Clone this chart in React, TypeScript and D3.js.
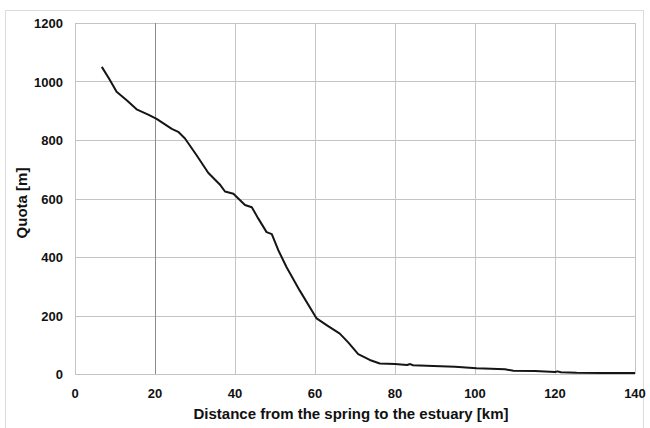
import { useEffect, useRef } from "react";
import * as d3 from "d3";

// river profile: distance from spring [km] vs elevation [m]
const distances = [
  6.7, 8.5, 10.4, 13, 15.4, 18.3, 20.4, 24.2, 25.8, 27.5, 30.4, 33.3, 36.2,
  37.5, 39.6, 42.5, 44.2, 45.8, 47.9, 49.2, 50.8, 52.9, 56.2, 60.4, 62.9,
  66.2, 68.3, 70.8, 73.7, 76.2, 80, 83, 83.8, 84.5, 89.6, 95, 100.4, 104,
  107.5, 109.6, 115, 120, 120.6, 121.5, 125.4, 132, 140,
];
const quotas = [
  1050, 1010, 965, 935, 905, 887, 872, 838, 828, 805, 748, 688, 648, 624, 616,
  578, 570, 532, 485, 478, 424, 365, 285, 190, 167, 138, 108, 68, 48, 36, 34,
  31, 34, 30, 27, 25, 20, 18, 16, 11, 10, 7, 9, 6, 4, 3, 3,
];
const xTicks = [0, 20, 40, 60, 80, 100, 120, 140];
const yTicks = [0, 200, 400, 600, 800, 1000, 1200];

const App = () => {
  const svgRef = useRef<SVGSVGElement>(null);

  useEffect(() => {
    const svg = d3.select(svgRef.current);
    svg.selectAll("*").remove();

    const font = "'Liberation Sans', Arial, sans-serif";
    const x = d3.scaleLinear().domain([0, 140]).range([75, 635]);
    const y = d3.scaleLinear().domain([0, 1200]).range([374, 23]);

    // outer frame
    svg
      .append("rect")
      .attr("x", 5.5)
      .attr("y", 10.5)
      .attr("width", 638)
      .attr("height", 430)
      .attr("fill", "#fff")
      .attr("stroke", "#dcdcdc");

    // grid
    const grid = svg.append("g");
    grid
      .selectAll("line.h")
      .data(yTicks)
      .enter()
      .append("line")
      .attr("x1", x(0))
      .attr("x2", x(140))
      .attr("y1", (d) => Math.round(y(d)) + 0.5)
      .attr("y2", (d) => Math.round(y(d)) + 0.5)
      .attr("stroke", "#c4c4c4");
    grid
      .selectAll("line.v")
      .data(xTicks)
      .enter()
      .append("line")
      .attr("x1", (d) => Math.round(x(d)) + 0.5)
      .attr("x2", (d) => Math.round(x(d)) + 0.5)
      .attr("y1", y(1200))
      .attr("y2", y(0))
      .attr("stroke", (d) => (d === 20 ? "#8c8c8c" : "#c4c4c4"));

    // tick labels
    svg
      .selectAll("text.yt")
      .data(yTicks)
      .enter()
      .append("text")
      .attr("x", 63)
      .attr("y", (d) => y(d) + 5)
      .attr("text-anchor", "end")
      .style("font-family", font)
      .style("font-size", "13px")
      .style("font-weight", "bold")
      .attr("fill", "#111")
      .text((d) => d);
    svg
      .selectAll("text.xt")
      .data(xTicks)
      .enter()
      .append("text")
      .attr("x", (d) => x(d))
      .attr("y", 398)
      .attr("text-anchor", "middle")
      .style("font-family", font)
      .style("font-size", "13px")
      .style("font-weight", "bold")
      .attr("fill", "#111")
      .text((d) => d);

    // axis titles
    svg
      .append("text")
      .attr("x", 351)
      .attr("y", 419)
      .attr("text-anchor", "middle")
      .style("font-family", font)
      .style("font-size", "15px")
      .style("font-weight", "bold")
      .attr("fill", "#111")
      .text("Distance from the spring to the estuary [km]");
    svg
      .append("text")
      .attr("transform", "translate(27,203) rotate(-90)")
      .attr("text-anchor", "middle")
      .style("font-family", font)
      .style("font-size", "15px")
      .style("font-weight", "bold")
      .attr("fill", "#111")
      .text("Quota [m]");

    // profile line
    const line = d3
      .line<number>()
      .x((d) => x(d))
      .y((d, i) => y(quotas[i]));
    svg
      .append("path")
      .attr("d", line(distances))
      .attr("fill", "none")
      .attr("stroke", "#151515")
      .attr("stroke-width", 2)
      .attr("stroke-linejoin", "round");
  }, []);

  return (
    <svg
      ref={svgRef}
      width={650}
      height={428}
      style={{ position: "absolute", left: 0, top: 0, background: "#fff" }}
    ></svg>
  );
};

export default App;
